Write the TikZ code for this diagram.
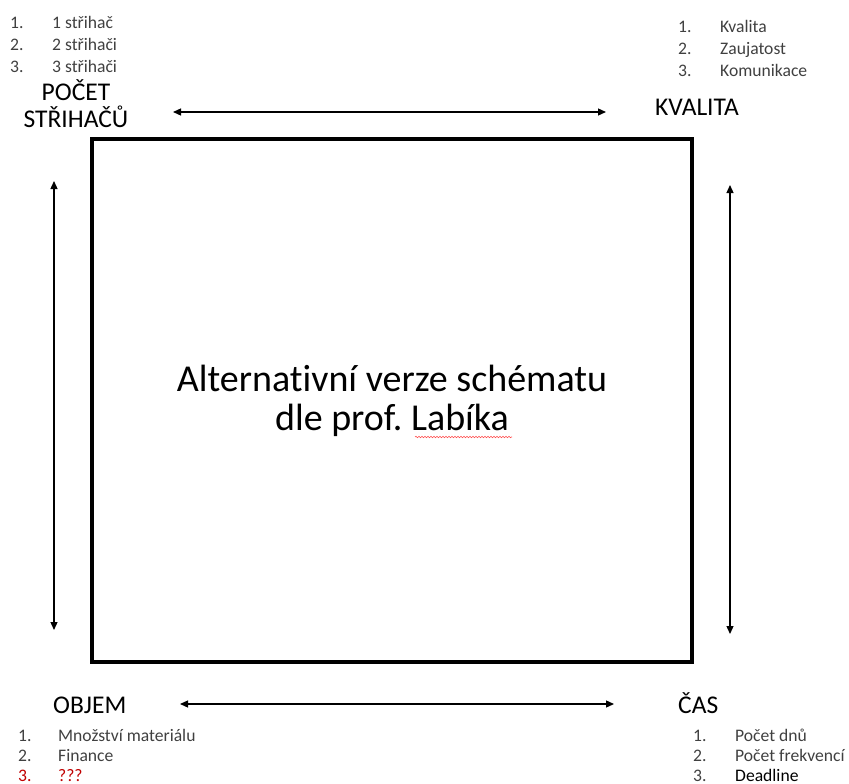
\documentclass[tikz,border=0pt]{standalone}
\usepackage{fontspec}
\setmainfont[RawFeature=-liga]{Carlito}
\usetikzlibrary{arrows.meta,decorations.pathmorphing}
\definecolor{listgray}{HTML}{404040}
\definecolor{qred}{HTML}{C00000}
\begin{document}
\frenchspacing
\begin{tikzpicture}[x=1pt,y=-1pt,
  label/.style={font=\fontsize{25.5}{28}\selectfont, inner sep=0pt, align=center},
  listtxt/.style={font=\fontsize{17.6}{21}\selectfont, text=listgray, inner sep=0pt, anchor=base west},
  dblarrow/.style={line width=1.3pt, {Triangle[length=8pt,width=7pt]}-{Triangle[length=8pt,width=7pt]}},
  mainbox/.style={draw, line width=4pt, minimum width=600pt, minimum height=523pt, inner sep=0pt, align=center,
    font=\fontsize{38}{39}\selectfont}
]
\useasboundingbox (0,0) rectangle (849,784);

% main box
\node[mainbox] (box) at (392,400.5) {Alternativní verze schématu\\dle prof.\ Labíka};
\draw[red!70, line width=0.6pt, decorate, decoration={snake, amplitude=0.7pt, segment length=3pt}]
  (415,437) -- (512,437);

% corner labels
\node[label, anchor=base] (pocet) at (76,100) {POČET};
\node[label, anchor=base] (strihacu) at (76,128) {STŘIHAČŮ};
\node[label, anchor=base west] (kvalita) at (655,115) {KVALITA};
\node[label, anchor=base west] (objem) at (53,713) {OBJEM};
\node[label, anchor=base west] (cas) at (678,713) {ČAS};

% arrows
\coordinate (tl) at (173,112);
\coordinate (tr) at (606,112);
\coordinate (bl) at (180,704);
\coordinate (br) at (614,704);
\coordinate (lt) at (54,181);
\coordinate (lb) at (54,630);
\coordinate (rt) at (730,185);
\coordinate (rb) at (730,634);
\draw[dblarrow] (tl) -- (tr);
\draw[dblarrow] (bl) -- (br);
\draw[dblarrow] (lt) -- (lb);
\draw[dblarrow] (rt) -- (rb);

% top-left list
\node[listtxt] (a1n) at (10,29) {1.};
\node[listtxt] (a1) at (52,29) {1 střihač};
\node[listtxt] (a2n) at (10,51) {2.};
\node[listtxt] (a2) at (52,51) {2 střihači};
\node[listtxt] (a3n) at (10,73) {3.};
\node[listtxt] (a3) at (52,73) {3 střihači};

% top-right list
\node[listtxt] (b1n) at (678,33) {1.};
\node[listtxt] (b1) at (720,33) {Kvalita};
\node[listtxt] (b2n) at (678,55) {2.};
\node[listtxt] (b2) at (720,55) {Zaujatost};
\node[listtxt] (b3n) at (678,77) {3.};
\node[listtxt] (b3) at (720,77) {Komunikace};

% bottom-left list
\node[listtxt] (c1n) at (18,741) {1.};
\node[listtxt] (c1) at (58,741) {Množství materiálu};
\node[listtxt] (c2n) at (18,761) {2.};
\node[listtxt] (c2) at (58,761) {Finance};
\node[listtxt, text=qred] (c3n) at (18,781) {3.};
\node[listtxt, text=qred] (c3) at (58,781) {???};

% bottom-right list
\node[listtxt] (d1n) at (693,741) {1.};
\node[listtxt] (d1) at (735,741) {Počet dnů};
\node[listtxt] (d2n) at (693,761) {2.};
\node[listtxt] (d2) at (735,761) {Počet frekvencí};
\node[listtxt] (d3n) at (693,781) {3.};
\node[listtxt, text=black] (d3) at (735,781) {Deadline};
\end{tikzpicture}
\end{document}
